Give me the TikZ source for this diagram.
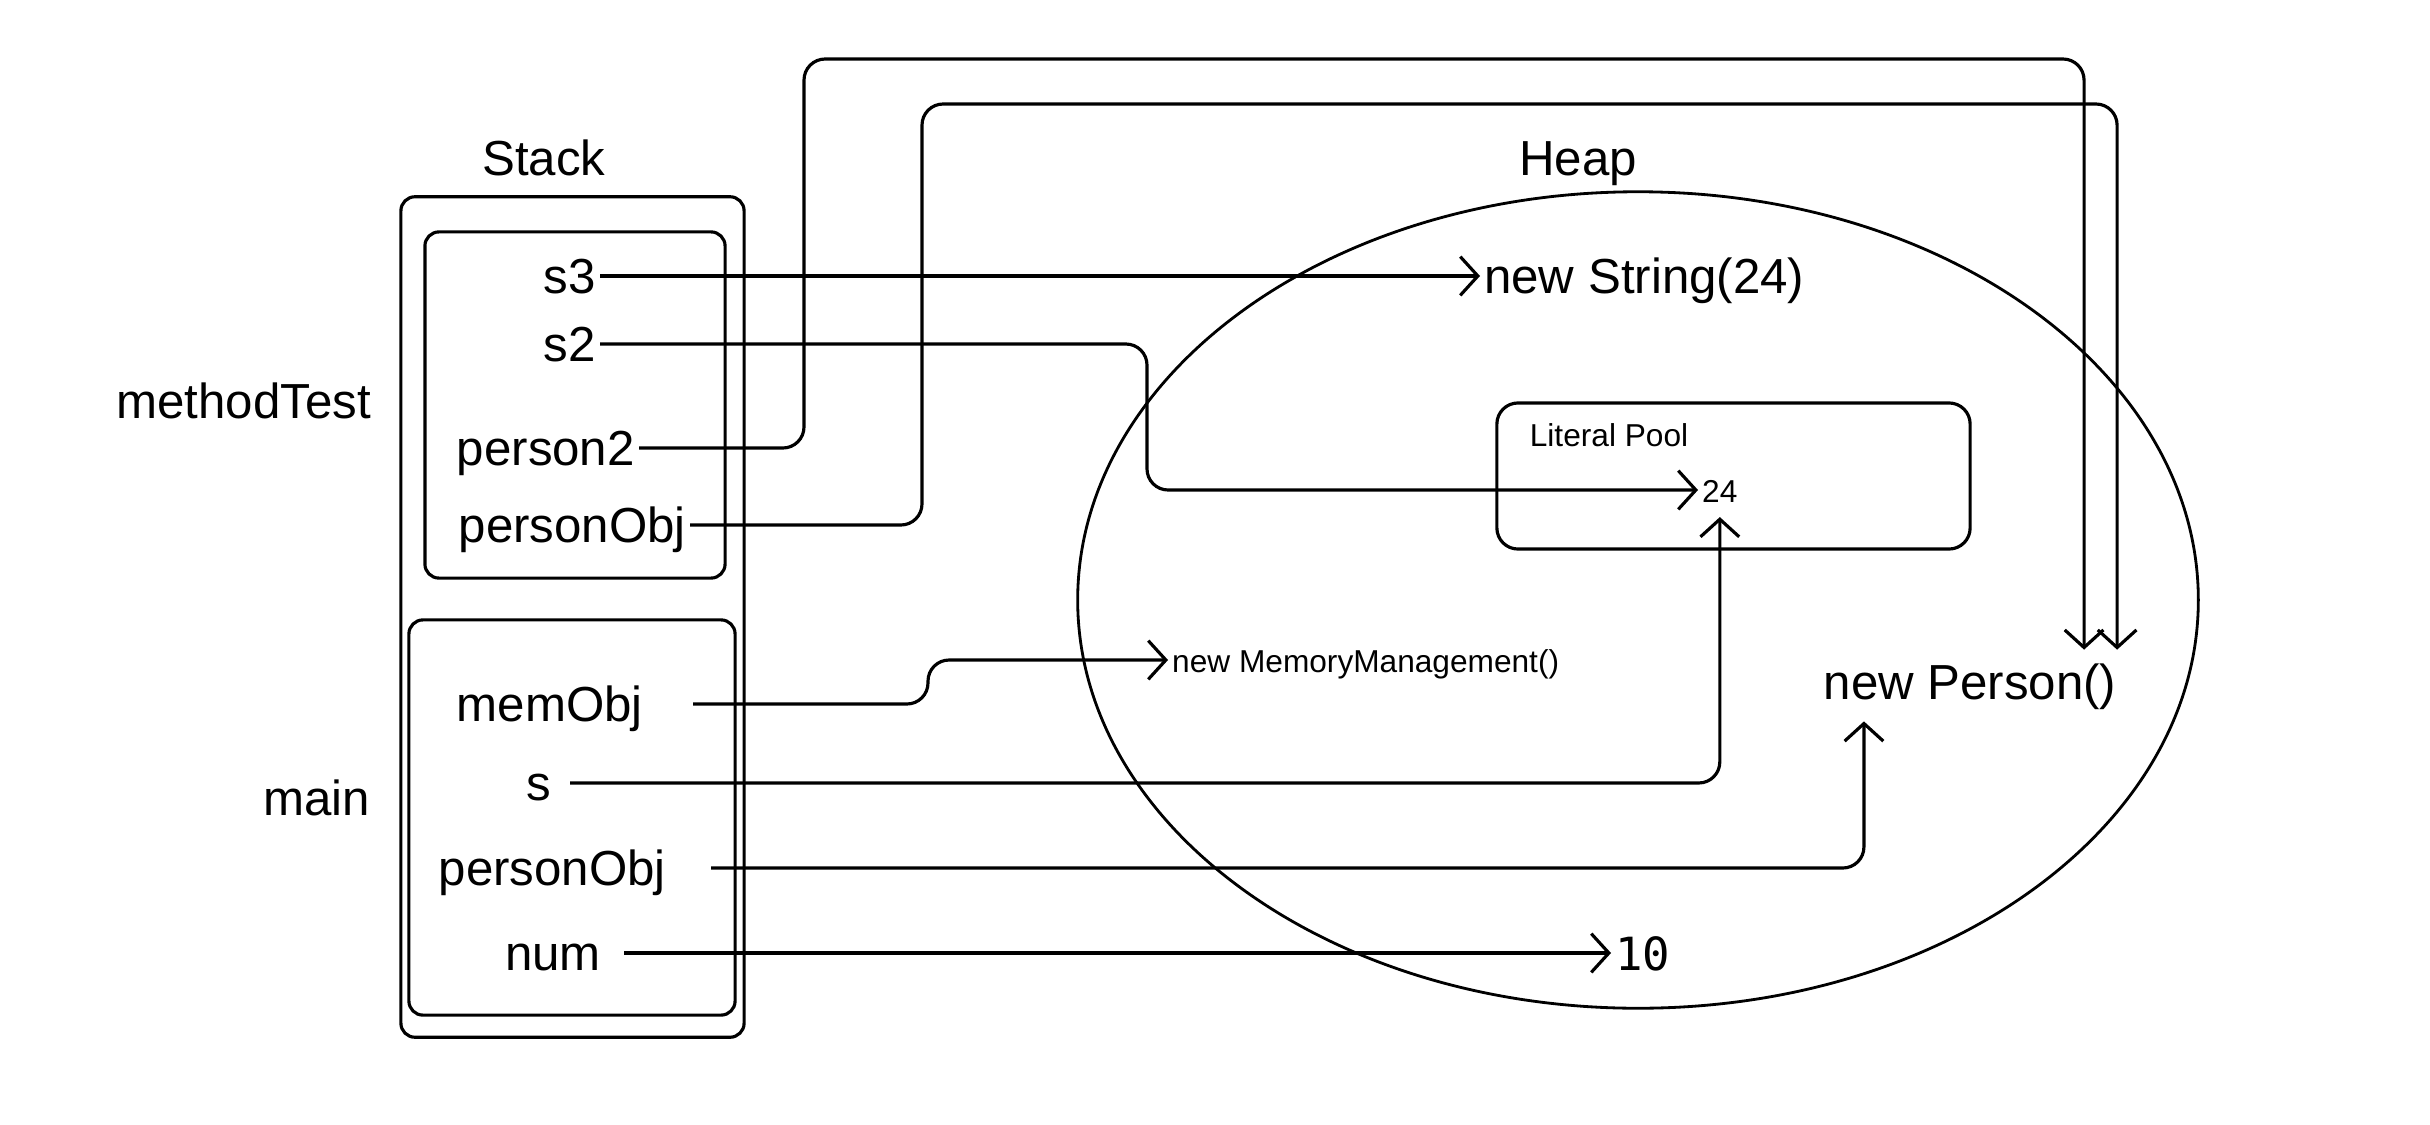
\documentclass[tikz,border=0pt]{standalone}
\usepackage{fontspec}
\setmainfont{Liberation Sans}
\newfontfamily\numfont{DejaVu Sans Mono}
\usetikzlibrary{arrows.meta,positioning,shapes.geometric}

\begin{document}
\begin{tikzpicture}[x=0.01cm, y=-0.01cm,
    every node/.style={font=\fontsize{14}{16}\selectfont, inner sep=1pt, text height=10pt, text depth=0pt},
    frame/.style={draw, line width=0.9pt, rounded corners=4pt},
    var/.style={anchor=east},
    small/.style={font=\fontsize{9}{11}\selectfont, text height=7pt},
    ref/.style={draw, line width=0.9pt, rounded corners=6pt,
        -{Straight Barb[length=5pt, width=11pt, line width=0.9pt]}}]

\useasboundingbox (0,0) rectangle (2430,1124);

% stack frames
\node[frame, minimum width=3.43cm, minimum height=8.4cm] (stack) at (572.5,617) {};
\node[frame, minimum width=3.0cm, minimum height=3.46cm] (framemt) at (575,405) {};
\node[frame, minimum width=3.26cm, minimum height=3.95cm] (framemain) at (572,817.5) {};
\node (stacklbl) at (544,158) {Stack};
\node[anchor=east] (mtlbl) at (375,401) {methodTest};
\node[anchor=east] (mainlbl) at (374,798) {main};

% heap
\node[draw, ellipse, line width=0.8pt, minimum width=11.2cm, minimum height=8.16cm] (heap) at (1638,600) {};
\node (heaplbl) at (1578,158) {Heap};
\node[frame, rounded corners=6pt, minimum width=4.73cm, minimum height=1.46cm] (pool) at (1733.5,476) {};
\node[small] (poollbl) at (1609,434) {Literal Pool};

% stack variables
\node[var] (s3) at (600,276) {s3};
\node[var] (s2) at (600,344) {s2};
\node[var] (person2) at (639,448) {person2};
\node[var] (pobj1) at (690,525) {personObj};
\node[var] (memobj) at (647,704) {memObj};
\node[var] (svar) at (555,783) {s};
\node[var] (pobj2) at (670,868) {personObj};
\node[var] (num) at (605,953) {num};

% heap objects
\node[anchor=west] (strobj) at (1480,276) {new String(24)};
\node[small, anchor=west] (lit24) at (1698,490) {24};
\node[small, anchor=west] (memmgmt) at (1168,660) {new MemoryManagement()};
\node (newperson) at (1970,682) {new Person()};
\node[anchor=west, font=\fontsize{13}{15}\selectfont\numfont] (ten) at (1611,953) {10};

% references
\draw[ref] (s3.east) -- (strobj.west);
\draw[ref] (s2.east) -| (1147,420) |- (lit24.west);
\draw[ref] (person2.east) -| (804,59) -| ([xshift=1.14cm,yshift=3pt]newperson.north);
\draw[ref] (pobj1.east) -| (922,104) -| ([xshift=1.47cm,yshift=3pt]newperson.north);
\draw[ref] ([xshift=0.46cm]memobj.east) -| (928,660) -- (memmgmt.west);
\draw[ref] ([xshift=0.15cm]svar.east) -| ([yshift=-3pt]lit24.south);
\draw[ref] ([xshift=0.41cm]pobj2.east) -| ([xshift=-1.06cm,yshift=-5pt]newperson.south);
\draw[ref] ([xshift=0.19cm]num.east) -- (ten.west);
\end{tikzpicture}
\end{document}
